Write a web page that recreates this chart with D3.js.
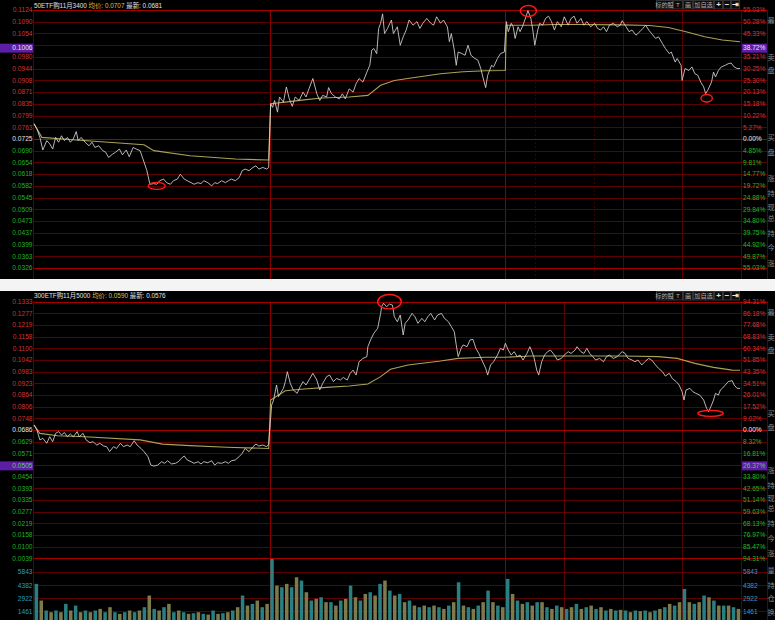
<!DOCTYPE html>
<html>
<head>
<meta charset="utf-8">
<script src="https://cdnjs.cloudflare.com/ajax/libs/d3/7.8.5/d3.min.js"></script>
<style>
  html, body { margin: 0; padding: 0; background: #000; }
  svg { display: block; }
  text { font-family: "Liberation Sans", Arial, "Noto Sans CJK SC", sans-serif; }
</style>
</head>
<body>
<div id="chart"></div>
<script>
// ---- data ----
const topTitle = ["50ETF购11月3400", "0.0707", "0.0681"];
const botTitle = ["300ETF购11月5000", "0.0590", "0.0576"];

const topPriceLabels = ["0.1124","0.1090","0.1054","0.1017","0.0980","0.0944","0.0908","0.0871","0.0835","0.0799","0.0763","0.0725","0.0690","0.0654","0.0618","0.0582","0.0545","0.0509","0.0473","0.0437","0.0399","0.0363","0.0326"];
const topPctLabels = ["55.03%","50.28%","45.33%","40.17%","35.21%","30.25%","25.30%","20.13%","15.18%","10.22%","5.27%","0.00%","4.85%","9.81%","14.77%","19.72%","24.88%","29.84%","34.80%","39.75%","44.92%","49.87%","55.03%"];
const botPriceLabels = ["0.1333","0.1277","0.1219","0.1158","0.1100","0.1042","0.0983","0.0923","0.0864","0.0806","0.0748","0.0686","0.0629","0.0571","0.0513","0.0454","0.0393","0.0335","0.0277","0.0219","0.0158","0.0100","0.0039"];
const botPctLabels = ["94.31%","86.18%","77.68%","68.83%","60.34%","51.85%","43.35%","34.51%","26.01%","17.52%","9.02%","0.00%","8.32%","16.81%","25.22%","33.80%","42.65%","51.14%","59.63%","68.13%","76.97%","85.47%","94.31%"];
const volLabels = [5843, 4382, 2922, 1461];

// cursor highlight [price, price label, pct label]
const topCursor = [0.1006, "0.1006", "38.72%"];
const botCursor = [0.0505, "0.0505", "26.37%"];

// [minute, price]
const topLine = [
  [0,0.0772],[3,0.0756],[6,0.0730],[9,0.0691],[13,0.0720],[16,0.0710],[19,0.0694],[22,0.0730],[25,0.0715],[28,0.0735],
  [31,0.0720],[34,0.0730],[37,0.0715],[40,0.0725],[43,0.0748],[45,0.0720],[48,0.0730],[52,0.0715],[56,0.0704],[59,0.0715],
  [62,0.0699],[66,0.0704],[70,0.0689],[73,0.0684],[76,0.0668],[80,0.0678],[83,0.0684],[87,0.0694],[90,0.0676],[94,0.0691],
  [97,0.0670],[101,0.0699],[104,0.0694],[108,0.0689],[111,0.0663],[115,0.0627],[118,0.0585],[122,0.0587],[125,0.0585],[128,0.0596],
  [132,0.0601],[135,0.0590],[139,0.0585],[142,0.0596],[146,0.0601],[149,0.0616],[153,0.0601],[156,0.0596],[160,0.0590],[163,0.0585],
  [167,0.0590],[170,0.0587],[173,0.0596],[177,0.0590],[181,0.0580],[184,0.0590],[187,0.0587],[191,0.0596],[195,0.0590],[198,0.0596],
  [201,0.0601],[205,0.0596],[209,0.0606],[212,0.0627],[215,0.0632],[219,0.0627],[223,0.0637],[226,0.0642],[229,0.0632],[233,0.0637],
  [237,0.0632],[239,0.0637],
  [241,0.0834],[243,0.0823],[245,0.0844],[248,0.0808],[250,0.0855],[254,0.0839],[257,0.0886],[260,0.0849],[263,0.0826],[266,0.0855],
  [270,0.0844],[274,0.0870],[277,0.0855],[280,0.0880],[284,0.0912],[288,0.0865],[291,0.0844],[294,0.0860],[298,0.0855],[300,0.0884],
  [303,0.0865],[307,0.0855],[311,0.0849],[314,0.0865],[317,0.0849],[321,0.0880],[325,0.0870],[328,0.0896],[331,0.0912],[335,0.0901],
  [339,0.0932],[342,0.0953],[344,0.1000],[346,0.1005],[349,0.0989],[351,0.1067],[353,0.1083],[355,0.1112],[357,0.1051],[360,0.1067],
  [364,0.1093],[366,0.1051],[370,0.1072],[373,0.1015],[376,0.1041],[379,0.1062],[382,0.1093],[386,0.1077],[390,0.1088],[393,0.1067],
  [396,0.1083],[400,0.1098],[404,0.1083],[407,0.1077],[410,0.1103],[414,0.1083],[417,0.1093],[421,0.1072],[423,0.1026],[425,0.1051],
  [428,0.1000],[430,0.0953],[432,0.0994],[436,0.0989],[439,0.0984],[442,0.1015],[445,0.0984],[449,0.0974],[452,0.0969],[455,0.0943],
  [458,0.0906],[460,0.0884],[462,0.0922],[466,0.0953],[468,0.0948],[472,0.0974],[475,0.0989],[479,0.0994],
  [481,0.1088],[483,0.1057],[486,0.1083],[488,0.1072],[490,0.1036],[493,0.1072],[495,0.1057],[498,0.1077],[501,0.1103],[503,0.1122],
  [506,0.1098],[508,0.1062],[510,0.1015],[513,0.1062],[515,0.1083],[518,0.1077],[521,0.1098],[524,0.1105],[527,0.1088],[530,0.1062],
  [533,0.1088],[537,0.1072],[540,0.1103],[544,0.1077],[547,0.1098],[550,0.1105],[553,0.1083],[557,0.1098],[560,0.1077],[563,0.1088],
  [567,0.1072],[571,0.1083],[574,0.1067],[577,0.1062],[580,0.1072],[583,0.1057],[586,0.1077],[590,0.1083],[594,0.1072],[597,0.1077],
  [599,0.1091],[603,0.1072],[606,0.1057],[609,0.1062],[613,0.1046],[617,0.1057],[620,0.1067],[623,0.1077],[626,0.1062],[629,0.1051],
  [633,0.1036],[636,0.1041],[640,0.1020],[643,0.1005],[647,0.0989],[649,0.0994],[653,0.0963],[655,0.0974],[659,0.0953],[660,0.0906],
  [663,0.0943],[667,0.0937],[670,0.0948],[673,0.0927],[676,0.0922],[679,0.0901],[682,0.0886],[684,0.0865],[686,0.0875],[690,0.0901],
  [692,0.0932],[694,0.0917],[697,0.0937],[700,0.0948],[704,0.0953],[707,0.0958],[710,0.0960],[713,0.0948],[716,0.0943],[719,0.0943]
];
const topAvg = [
  [0,0.0772],[8,0.0730],[43,0.0722],[112,0.0707],[122,0.0689],[159,0.0673],[205,0.0663],[239,0.0660],
  [241,0.0834],[256,0.0839],[275,0.0846],[293,0.0852],[321,0.0855],[340,0.0860],[353,0.0891],[367,0.0906],[391,0.0917],[414,0.0927],[437,0.0933],[460,0.0936],[480,0.0937],
  [481,0.1077],[507,0.1077],[530,0.1079],[553,0.1079],[599,0.1078],[627,0.1076],[646,0.1070],[664,0.1057],[683,0.1041],[701,0.1031],[719,0.1026]
];

const botLine = [
  [0,0.0711],[3,0.0686],[6,0.0636],[9,0.0644],[13,0.0619],[16,0.0652],[19,0.0627],[22,0.0669],[25,0.0678],[28,0.0661],
  [31,0.0673],[34,0.0652],[37,0.0666],[40,0.0652],[44,0.0678],[46,0.0652],[50,0.0669],[53,0.0636],[57,0.0622],[60,0.0627],
  [64,0.0610],[67,0.0619],[71,0.0605],[74,0.0602],[77,0.0577],[81,0.0602],[84,0.0593],[88,0.0619],[91,0.0602],[95,0.0610],
  [98,0.0602],[102,0.0632],[105,0.0610],[109,0.0593],[112,0.0577],[116,0.0552],[119,0.0509],[122,0.0504],[126,0.0509],[130,0.0526],
  [133,0.0518],[136,0.0531],[140,0.0515],[144,0.0518],[147,0.0526],[150,0.0543],[153,0.0555],[156,0.0535],[160,0.0526],[163,0.0518],
  [167,0.0526],[170,0.0515],[173,0.0526],[177,0.0521],[181,0.0531],[184,0.0509],[187,0.0521],[191,0.0518],[195,0.0526],[198,0.0518],
  [201,0.0531],[205,0.0535],[209,0.0552],[212,0.0568],[215,0.0593],[219,0.0577],[223,0.0602],[226,0.0615],[229,0.0605],[233,0.0610],
  [237,0.0602],[239,0.0615],
  [241,0.0745],[242,0.0812],[244,0.0837],[247,0.0913],[249,0.0854],[251,0.0871],[254,0.0896],[256,0.0930],[258,0.0980],[261,0.0921],
  [264,0.0888],[268,0.0871],[271,0.0904],[274,0.0930],[277,0.0913],[280,0.0938],[284,0.0972],[288,0.0938],[291,0.0888],[294,0.0921],
  [298,0.0955],[301,0.0963],[305,0.0930],[308,0.0946],[312,0.0938],[315,0.0951],[319,0.0938],[322,0.0972],[325,0.0988],[328,0.0963],
  [331,0.1030],[335,0.1047],[339,0.1056],[340,0.1106],[343,0.1143],[346,0.1173],[350,0.1199],[353,0.1274],[354,0.1308],[356,0.1325],
  [359,0.1308],[362,0.1321],[365,0.1316],[367,0.1257],[370,0.1232],[373,0.1266],[376,0.1165],[378,0.1224],[381,0.1241],[385,0.1274],
  [388,0.1257],[391,0.1224],[395,0.1249],[398,0.1232],[401,0.1257],[404,0.1274],[408,0.1241],[411,0.1266],[415,0.1274],[418,0.1249],
  [422,0.1232],[425,0.1207],[428,0.1182],[430,0.1115],[432,0.1056],[435,0.1098],[437,0.1115],[441,0.1106],[444,0.1140],[447,0.1143],
  [450,0.1098],[453,0.1072],[456,0.1039],[460,0.0997],[462,0.0963],[465,0.1014],[468,0.1030],[472,0.1064],[475,0.1098],[478,0.1089],
  [480,0.1123],
  [483,0.1089],[486,0.1064],[489,0.1081],[492,0.1056],[495,0.1064],[498,0.1039],[502,0.1072],[505,0.1106],[509,0.1056],[512,0.0988],
  [514,0.0963],[517,0.1030],[520,0.1064],[523,0.1081],[526,0.1089],[530,0.1064],[533,0.1039],[537,0.1047],[540,0.1064],[544,0.1081],
  [547,0.1072],[551,0.1089],[553,0.1106],[557,0.1081],[560,0.1072],[563,0.1098],[566,0.1072],[569,0.1056],[572,0.1039],[576,0.1047],
  [580,0.1030],[583,0.1056],[586,0.1064],[590,0.1047],[594,0.1056],[597,0.1072],[599,0.1081],[602,0.1072],[605,0.1047],[609,0.1039],
  [612,0.1030],[615,0.1039],[619,0.1014],[622,0.1030],[626,0.1047],[629,0.1039],[633,0.1014],[636,0.0997],[640,0.0980],[643,0.0958],
  [647,0.0972],[650,0.0946],[654,0.0930],[657,0.0913],[660,0.0879],[662,0.0837],[664,0.0888],[668,0.0896],[671,0.0879],[674,0.0871],
  [678,0.0862],[682,0.0837],[685,0.0795],[687,0.0778],[690,0.0812],[692,0.0837],[694,0.0871],[697,0.0862],[699,0.0888],[701,0.0896],
  [704,0.0913],[707,0.0930],[711,0.0935],[713,0.0913],[716,0.0896],[719,0.0896]
];
const botAvg = [
  [0,0.0711],[6,0.0669],[24,0.0657],[52,0.0652],[108,0.0636],[131,0.0615],[159,0.0607],[196,0.0599],[239,0.0593],
  [241,0.0837],[256,0.0884],[275,0.0893],[298,0.0901],[321,0.0908],[340,0.0918],[353,0.0955],[363,0.0992],[381,0.1014],[414,0.1034],[432,0.1047],[460,0.1053],[480,0.1053],
  [506,0.1059],[553,0.1059],[599,0.1059],[636,0.1056],[655,0.1047],[673,0.1022],[692,0.1002],[711,0.0988],[719,0.0987]
];

// volume per 5 minutes, 3 sessions x 48
const botVolume = [
  4530,2670,1560,1370,1560,1370,2300,1560,2110,1370,1560,1370,1560,1740,1370,1930,1370,1190,1370,1560,1370,1560,1930,3230,
  1740,1560,1930,2300,1370,1560,1370,1190,1260,1370,1190,1110,1560,1190,1260,1370,1560,1930,3230,2110,2300,2670,1930,2300,
  7310,4340,4160,4530,4160,5270,4900,3600,2670,2860,3040,2490,2490,2110,2670,2860,4340,3040,2670,3410,3600,3230,4530,4900,
  3780,3230,3410,2490,2670,2110,1930,2110,1930,2110,1930,1740,2110,2490,4710,2110,1930,1740,2110,2490,3780,2490,2110,1930,
  5080,3410,2670,2300,2490,2110,2490,2490,1930,1740,2110,1930,1740,1930,2300,1740,1930,2110,1740,1930,1560,1740,1560,1630,
  1560,1370,1560,1480,1560,1370,1560,1740,1930,2300,2110,2490,3970,2490,2300,2490,3230,3040,2670,2110,2110,2110,1930,1740
];

// hand-drawn red rings [minute, price]
const topMarks = [[125, 0.0580], [503.5, 0.1121], [685, 0.0851]];
const botMarks = [[362, 0.1333], [689, 0.0770]];

const buttons = ["标的股", "T", "画", "加自选", "+", "−", "⇥"];
const topSideChars = ["最", "卖", "盘", "买", "盘", "涨", "持", "现", "总", "持", "今", "涨"];
const botSideChars = ["最", "卖", "盘", "买", "盘", "涨", "持", "现", "总", "持", "今", "涨", "量", "持", "仓", "换"];

// ---- drawing ----
const W = 775, H = 620;
const C = {
  grid: "#5e0000", strong: "#a40000", day: "#8c0000", sub: "#5a0000",
  up: "#d23434", flat: "#e6e6e6", down: "#22b422", vol: "#2a9cc4",
  line: "#d4d4d4", avg: "#aaa255", cursor: "#5b1ea4", ring: "#ff1a1a", side: "#8a8a8a"
};

const svg = d3.select("#chart").append("svg").attr("width", W).attr("height", H);
svg.append("rect").attr("width", W).attr("height", H).attr("fill", "#000");
svg.append("rect").attr("x", 0).attr("y", 279).attr("width", W).attr("height", 12).attr("fill", "#f4f4f4");

const x = d3.scaleLinear().domain([0, 720]).range([34, 741]);

function drawPanel(p) {
  const g = svg.append("g");
  const y = d3.scaleLinear().domain([p.lo, p.hi]).range([p.y1, p.y0]);
  const n = p.priceLabels.length;
  const mid = (n - 1) / 2;
  const ticks = d3.range(n).map(i => p.hi - i * (p.hi - p.lo) / (n - 1));
  const snap = v => Math.round(v) + 0.5;
  const cy = y(p.cursor[0]);

  // vertical time lines
  const vlines = [240, 480].map(m => ({ m, c: C.day, dash: null }))
    .concat(p.subLines.map(s => ({ m: s[0], c: s[1] ? C.sub : "#3a0000", dash: s[1] ? null : "2,2" })));
  g.selectAll("line.v").data(vlines).join("line")
    .attr("x1", d => snap(x(d.m))).attr("x2", d => snap(x(d.m)))
    .attr("y1", p.y0).attr("y2", p.bottom)
    .attr("stroke", d => d.c).attr("stroke-dasharray", d => d.dash);

  // borders
  [33.5, 741.5, 767.5].forEach(bx => g.append("line")
    .attr("x1", bx).attr("x2", bx).attr("y1", p.top + 10).attr("y2", p.bottom)
    .attr("stroke", C.grid));

  // horizontal grid
  g.selectAll("line.h").data(ticks).join("line")
    .attr("x1", 34).attr("x2", 767)
    .attr("y1", d => snap(y(d))).attr("y2", d => snap(y(d)))
    .attr("stroke", (d, i) => (i === mid || i === n - 1 || i === 0) ? C.strong : C.grid);

  // tick labels (the one under the cursor box is hidden, as in the terminal)
  const shown = ticks.map((d, i) => ({ d, i })).filter(o => Math.abs(y(o.d) - cy) > 5);
  const col = i => i < mid ? C.up : (i === mid ? C.flat : C.down);
  g.selectAll("text.pl").data(shown).join("text")
    .attr("x", 32.5).attr("y", o => y(o.d)).attr("dy", "0.35em")
    .attr("text-anchor", "end").attr("font-size", 6.6)
    .attr("fill", o => col(o.i)).text(o => p.priceLabels[o.i]);
  g.selectAll("text.pp").data(shown).join("text")
    .attr("x", 743).attr("y", o => y(o.d)).attr("dy", "0.35em")
    .attr("font-size", 6.6)
    .attr("fill", o => col(o.i)).text(o => p.pctLabels[o.i]);

  // volume section
  if (p.volume) {
    const vy = d3.scaleLinear().domain([0, 7305]).range([624.5, 559]);
    g.selectAll("line.vg").data(volLabels).join("line")
      .attr("x1", 34).attr("x2", 767)
      .attr("y1", d => snap(vy(d))).attr("y2", d => snap(vy(d)))
      .attr("stroke", C.grid);
    const bw = x(5) - x(0);
    g.selectAll("rect.vb").data(p.volume).join("rect")
      .attr("x", (d, i) => x(i * 5) + 0.6)
      .attr("width", bw - 1.4)
      .attr("y", d => vy(d)).attr("height", d => vy(0) - vy(d))
      .attr("fill", (d, i) => i % 2 ? "#7f7a4c" : "#2a7f82");
    [[32.5, "end"], [743, "start"]].forEach(([tx, anc]) =>
      g.selectAll(null).data(volLabels).join("text")
        .attr("x", tx).attr("y", d => vy(d)).attr("dy", "0.35em")
        .attr("text-anchor", anc).attr("font-size", 6.6)
        .attr("fill", C.vol).text(d => d));
  }

  // price + average
  const line = d3.line().x(d => x(d[0])).y(d => y(d[1]));
  g.append("path").attr("d", line(p.avg)).attr("fill", "none")
    .attr("stroke", C.avg).attr("stroke-width", 1.1);
  g.append("path").attr("d", line(p.line)).attr("fill", "none")
    .attr("stroke", C.line).attr("stroke-width", 0.85).attr("stroke-linejoin", "round");

  // red rings
  g.selectAll("ellipse").data(p.marks).join("ellipse")
    .attr("cx", d => x(d[0])).attr("cy", d => y(d[1]))
    .attr("rx", (d, i) => p.ringSize[i][0]).attr("ry", (d, i) => p.ringSize[i][1])
    .attr("fill", "none").attr("stroke", C.ring).attr("stroke-width", 1.4);

  // cursor highlight
  g.append("rect").attr("x", 0).attr("y", cy - 4.5).attr("width", 33).attr("height", 9).attr("fill", C.cursor);
  g.append("rect").attr("x", 742).attr("y", cy - 4.5).attr("width", 25).attr("height", 9).attr("fill", C.cursor);
  g.append("text").attr("x", 32.5).attr("y", cy).attr("dy", "0.35em").attr("text-anchor", "end")
    .attr("font-size", 6.6).attr("fill", p.cursorColor).text(p.cursor[1]);
  g.append("text").attr("x", 743).attr("y", cy).attr("dy", "0.35em")
    .attr("font-size", 6.6).attr("fill", p.cursorColor).text(p.cursor[2]);

  // header
  const t = g.append("text").attr("x", 34).attr("y", p.headerY).attr("font-size", 6.4);
  t.append("tspan").attr("fill", "#e0e0e0").text(p.title[0] + " ");
  t.append("tspan").attr("fill", "#cfc64a").text("均价: " + p.title[1] + " ");
  t.append("tspan").attr("fill", "#e0e0e0").text("最新: " + p.title[2]);

  const bwid = [17, 10, 10, 21, 9, 8, 9];
  let bx = 656;
  buttons.forEach((b, i) => {
    g.append("rect").attr("x", bx + 0.5).attr("y", p.top + 0.5).attr("width", bwid[i] - 1).attr("height", 8.5)
      .attr("fill", "#0c0c0c").attr("stroke", "#333");
    g.append("text").attr("x", bx + bwid[i] / 2).attr("y", p.top + 7)
      .attr("text-anchor", "middle").attr("font-size", i >= 4 ? 8 : 6.2)
      .attr("font-weight", i >= 4 ? "bold" : null)
      .attr("fill", i >= 4 ? "#e8e8e8" : "#b0b0b0").text(b);
    bx += bwid[i];
  });

  // side strip characters
  g.selectAll("text.sc").data(p.sideChars).join("text")
    .attr("x", 767.5).attr("y", (d, i) => p.sideY[i]).attr("dy", "0.35em")
    .attr("font-size", 7.2).attr("font-family", "Noto Sans CJK SC")
    .attr("fill", C.side).text(d => d);
}

drawPanel({
  top: 0, bottom: 279, headerY: 7.5, y0: 10, y1: 268, lo: 0.0326, hi: 0.1124,
  priceLabels: topPriceLabels, pctLabels: topPctLabels, title: topTitle,
  line: topLine, avg: topAvg, marks: topMarks, ringSize: [[8.5, 3.5], [8, 5.5], [5.7, 3.7]],
  cursor: topCursor, cursorColor: "#e8e8e8",
  subLines: [[510, false], [570, false], [600, true], [660, true]],
  sideChars: topSideChars, sideY: [20, 57, 70, 137, 152, 178, 193, 207, 218, 233, 247, 263]
});
drawPanel({
  top: 291, bottom: 620, headerY: 298, y0: 301.7, y1: 558.3, lo: 0.0039, hi: 0.1333,
  priceLabels: botPriceLabels, pctLabels: botPctLabels, title: botTitle,
  line: botLine, avg: botAvg, marks: botMarks, ringSize: [[11.8, 7.2], [12.8, 3]],
  cursor: botCursor, cursorColor: "#5ccc5c", volume: botVolume,
  subLines: [[540, true], [600, true], [660, true]],
  sideChars: botSideChars, sideY: [312, 337, 350, 413, 427, 470, 485, 498, 508, 523, 538, 553, 570, 585, 598, 612]
});
</script>
</body>
</html>
